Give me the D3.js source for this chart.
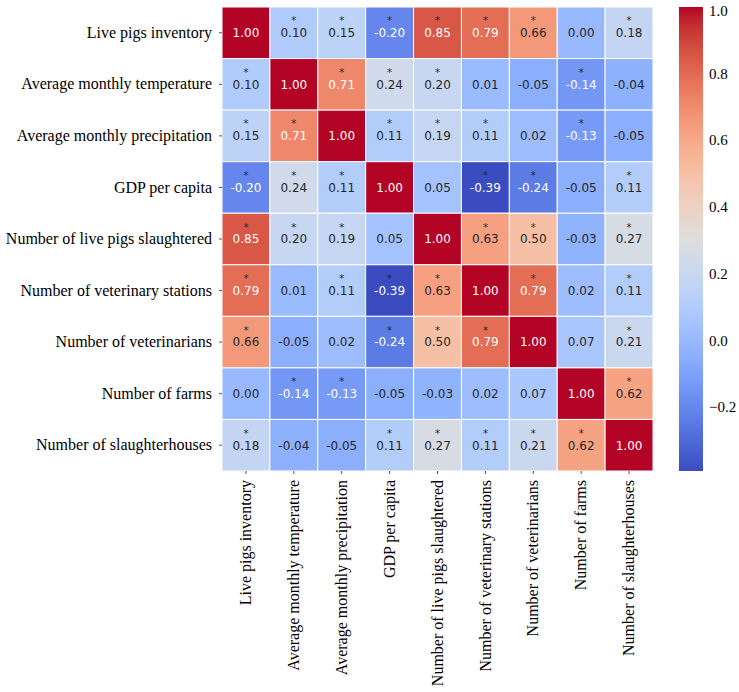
<!DOCTYPE html>
<html>
<head>
<meta charset="utf-8">
<script src="https://cdn.jsdelivr.net/npm/d3@7"></script>
<style>
  body { margin: 0; background: #fff; }
  .lbl { font-family: "Liberation Serif", "DejaVu Serif", serif; font-size: 16px; fill: #000; }
  .cbl { font-family: "Liberation Serif", "DejaVu Serif", serif; font-size: 15px; fill: #000; }
  .ann { font-family: "DejaVu Sans", sans-serif; }
</style>
</head>
<body>
<div id="chart"></div>
<script>
const labels = [
    'Live pigs inventory',
    'Average monthly temperature',
    'Average monthly precipitation',
    'GDP per capita',
    'Number of live pigs slaughtered',
    'Number of veterinary stations',
    'Number of veterinarians',
    'Number of farms',
    'Number of slaughterhouses'
];

const corr = [
    [1.00, 0.10, 0.15, -0.20, 0.85, 0.79, 0.66, 0.00, 0.18],
    [0.10, 1.00, 0.71, 0.24, 0.20, 0.01, -0.05, -0.14, -0.04],
    [0.15, 0.71, 1.00, 0.11, 0.19, 0.11, 0.02, -0.13, -0.05],
    [-0.20, 0.24, 0.11, 1.00, 0.05, -0.39, -0.24, -0.05, 0.11],
    [0.85, 0.20, 0.19, 0.05, 1.00, 0.63, 0.50, -0.03, 0.27],
    [0.79, 0.01, 0.11, -0.39, 0.63, 1.00, 0.79, 0.02, 0.11],
    [0.66, -0.05, 0.02, -0.24, 0.50, 0.79, 1.00, 0.07, 0.21],
    [0.00, -0.14, -0.13, -0.05, -0.03, 0.02, 0.07, 1.00, 0.62],
    [0.18, -0.04, -0.05, 0.11, 0.27, 0.11, 0.21, 0.62, 1.00]
];

// 1 = marked with an asterisk
const sig = [
    [0, 1, 1, 1, 1, 1, 1, 0, 1],
    [1, 0, 1, 1, 1, 0, 0, 1, 0],
    [1, 1, 0, 1, 1, 1, 0, 1, 0],
    [1, 1, 1, 0, 0, 1, 1, 0, 1],
    [1, 1, 1, 0, 0, 1, 1, 0, 1],
    [1, 0, 1, 1, 1, 0, 1, 0, 1],
    [1, 0, 0, 1, 1, 1, 0, 0, 1],
    [0, 1, 1, 0, 0, 0, 0, 0, 1],
    [1, 0, 0, 1, 1, 1, 1, 1, 0]
];

const cbTicks = [1.0, 0.8, 0.6, 0.4, 0.2, 0.0, -0.2];

// matplotlib coolwarm (Moreland) control colours
const coolwarm = ['#3b4cc0', '#445acc', '#4d68d7', '#5775e1', '#6282ea', '#6c8ef1', '#779af7', '#82a5fb',
    '#8db0fe', '#98b9ff', '#a3c2ff', '#aec9fd', '#b8d0f9', '#c2d5f4', '#ccd9ee', '#d5dbe6', '#dddddd',
    '#e5d8d1', '#ecd3c5', '#f1ccb9', '#f5c4ad', '#f7bba0', '#f7b194', '#f7a687', '#f49a7b', '#f18d6f',
    '#ec7f63', '#e57058', '#de604d', '#d55042', '#cb3e38', '#c0282f', '#b40426'];

const width = 739, height = 692;
const margin = { top: 7, left: 222 };
const gridW = 431, gridH = 464;
const vmin = d3.min(corr.flat()), vmax = 1.0;

const cmap = d3.scaleLinear()
    .domain(d3.range(coolwarm.length).map(i => vmin + (vmax - vmin) * i / (coolwarm.length - 1)))
    .range(coolwarm)
    .interpolate(d3.interpolateRgb)
    .clamp(true);

function lum(c) {
    const rgb = d3.rgb(c);
    const f = v => { v /= 255; return v <= 0.03928 ? v / 12.92 : Math.pow((v + 0.055) / 1.055, 2.4); };
    return 0.2126 * f(rgb.r) + 0.7152 * f(rgb.g) + 0.0722 * f(rgb.b);
}

const svg = d3.select('#chart').append('svg')
    .attr('width', width)
    .attr('height', height);

const x = d3.scaleBand().domain(d3.range(labels.length)).range([margin.left, margin.left + gridW]);
const y = d3.scaleBand().domain(d3.range(labels.length)).range([margin.top, margin.top + gridH]);

const cells = [];
corr.forEach((row, i) => row.forEach((v, j) => cells.push({ i, j, v, s: sig[i][j] })));

const g = svg.append('g');
const cell = g.selectAll('g.cell').data(cells).enter().append('g').attr('class', 'cell');

cell.append('rect')
    .attr('x', d => x(d.j))
    .attr('y', d => y(d.i))
    .attr('width', x.bandwidth())
    .attr('height', y.bandwidth())
    .attr('fill', d => cmap(d.v))
    .attr('stroke', '#fff')
    .attr('stroke-width', 1);

const txtColor = d => lum(cmap(d.v)) > 0.408 ? '#262626' : '#ffffff';

cell.append('text')
    .attr('class', 'ann')
    .attr('x', d => x(d.j) + x.bandwidth() / 2)
    .attr('y', d => y(d.i) + y.bandwidth() / 2)
    .attr('dy', '0.36em')
    .attr('text-anchor', 'middle')
    .style('font-size', '12px')
    .attr('fill', txtColor)
    .text(d => d.v.toFixed(2));

cell.filter(d => d.s).append('text')
    .attr('class', 'ann')
    .attr('x', d => x(d.j) + x.bandwidth() / 2)
    .attr('y', d => y(d.i) + y.bandwidth() / 2 - 8.5)
    .attr('text-anchor', 'middle')
    .style('font-size', '10px')
    .attr('fill', '#262626')
    .text('*');

// y axis labels
const ya = svg.append('g');
labels.forEach((l, i) => {
    const cy = y(i) + y.bandwidth() / 2;
    ya.append('line').attr('x1', margin.left - 3).attr('x2', margin.left)
        .attr('y1', cy).attr('y2', cy).attr('stroke', '#262626').attr('stroke-width', 0.8);
    ya.append('text').attr('class', 'lbl')
        .attr('x', margin.left - 10).attr('y', cy).attr('dy', '0.32em')
        .attr('text-anchor', 'end').text(l);
});

// x axis labels
const xa = svg.append('g');
const xBase = margin.top + gridH;
labels.forEach((l, j) => {
    const cx = x(j) + x.bandwidth() / 2;
    xa.append('line').attr('x1', cx).attr('x2', cx)
        .attr('y1', xBase).attr('y2', xBase + 3).attr('stroke', '#262626').attr('stroke-width', 0.8);
    xa.append('text').attr('class', 'lbl')
        .attr('transform', `translate(${cx},${xBase + 9}) rotate(-90)`)
        .attr('dy', '0.32em')
        .attr('text-anchor', 'end').text(l);
});

// colorbar
const cb = { x: 679, w: 24 };
const cbScale = d3.scaleLinear().domain([vmin, vmax]).range([margin.top + gridH, margin.top]);
const grad = svg.append('defs').append('linearGradient')
    .attr('id', 'cbgrad').attr('x1', 0).attr('y1', 1).attr('x2', 0).attr('y2', 0);
d3.range(0, 1.0001, 0.02).forEach(t => {
    grad.append('stop').attr('offset', t).attr('stop-color', cmap(vmin + (vmax - vmin) * t));
});
svg.append('rect')
    .attr('x', cb.x).attr('y', margin.top)
    .attr('width', cb.w).attr('height', gridH)
    .attr('fill', 'url(#cbgrad)');

svg.append('g').selectAll('text').data(cbTicks).enter().append('text')
    .attr('class', 'cbl')
    .attr('x', cb.x + cb.w + 6)
    .attr('y', d => Math.max(cbScale(d), margin.top + 4))
    .attr('dy', '0.32em')
    .text(d => d3.format('.1f')(d).replace('-', '\u2212'));
</script>
</body>
</html>
